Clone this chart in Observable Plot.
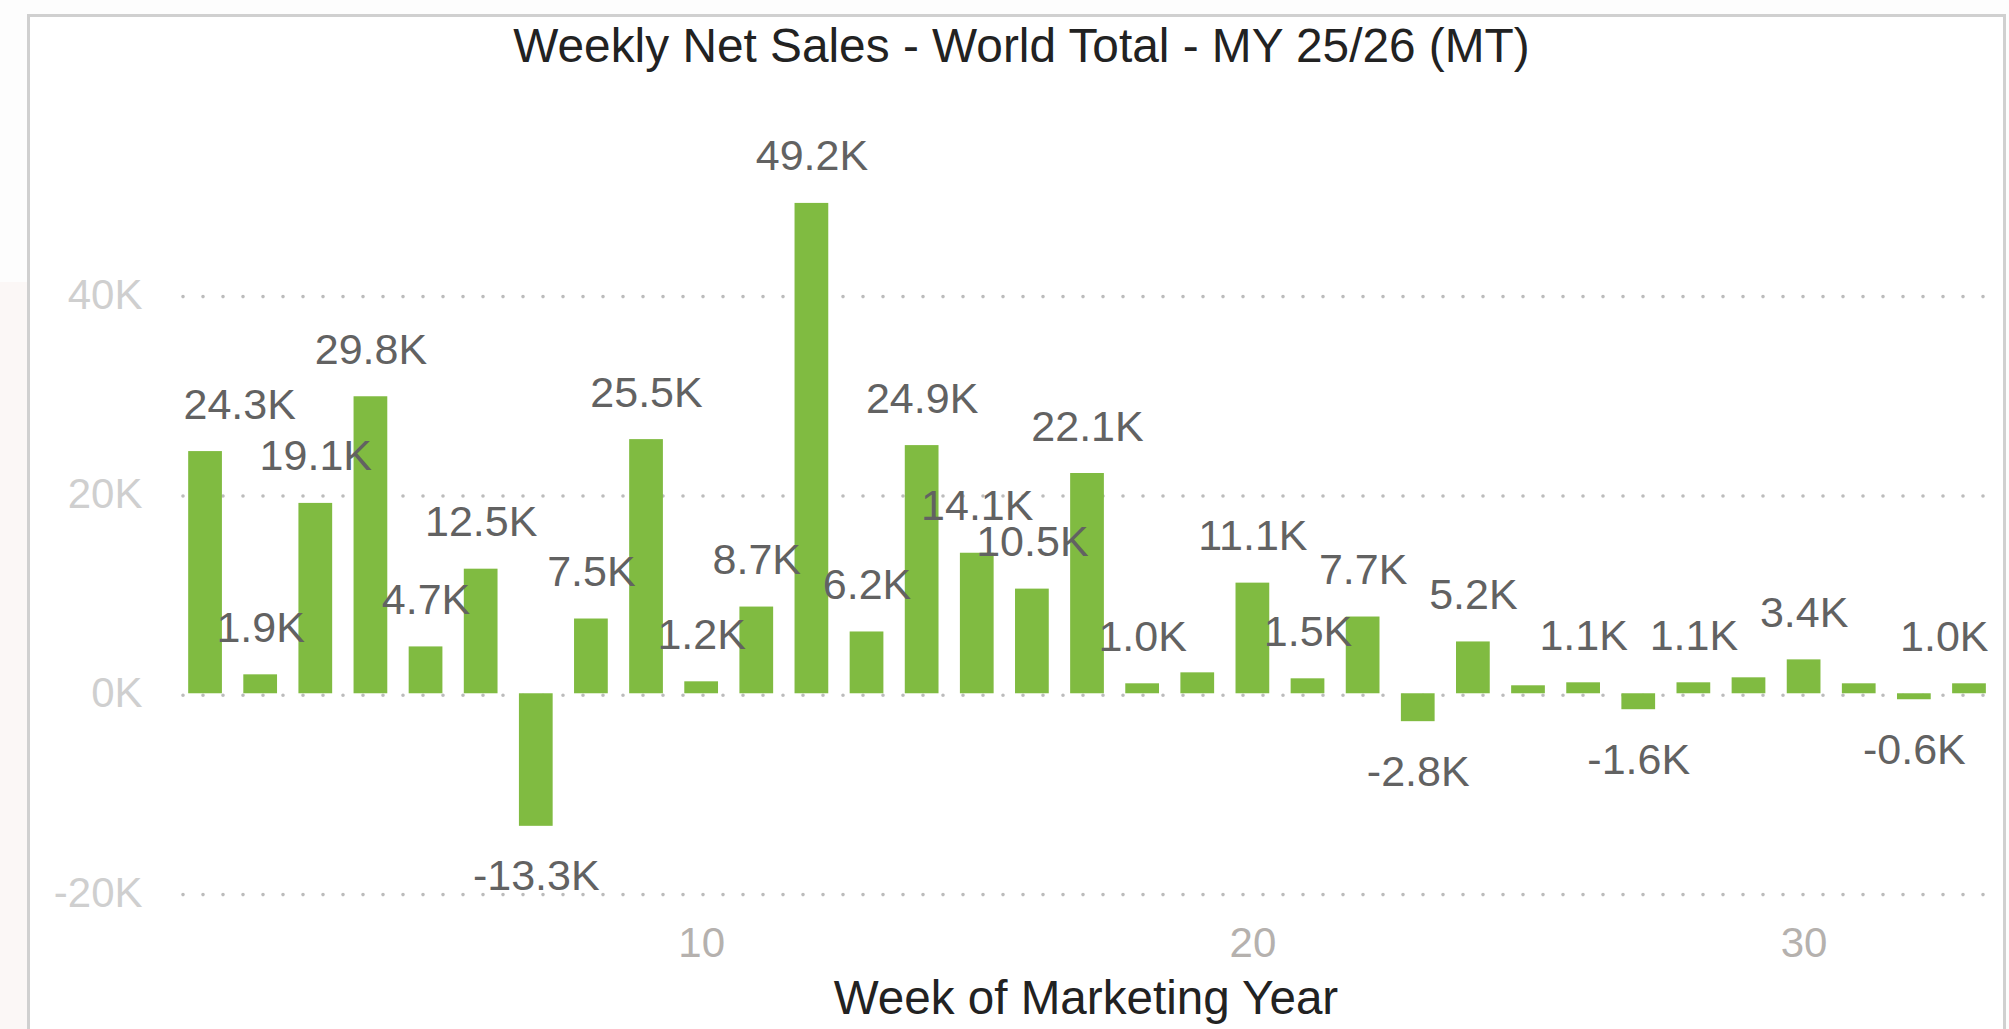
<!DOCTYPE html>
<html>
<head>
<meta charset="utf-8">
<script src="https://cdn.jsdelivr.net/npm/d3@7"></script>
<script src="https://cdn.jsdelivr.net/npm/@observablehq/plot@0.6"></script>
<style>
  html, body { margin: 0; padding: 0; background: #fdfdfd; width: 2009px; height: 1029px; overflow: hidden; position: relative; font-family: "Liberation Sans", Arial, sans-serif; }
  #strip { position: absolute; left: 0; top: 282px; width: 27px; height: 800px; background: #fbf7f6; }
  #box { position: absolute; left: 27px; top: 14px; width: 1973px; height: 1100px; border: 3px solid #d0d0d0; background: #ffffff; }
  #title { position: absolute; left: 30px; width: 1983px; top: 22px; text-align: center; font-size: 47.8px; line-height: 47px; color: #222222; white-space: nowrap; }
  #chart { position: absolute; left: 0; top: 0; }
</style>
</head>
<body>
<div id="strip"></div>
<div id="box"></div>
<div id="title">Weekly Net Sales - World Total - MY 25/26 (MT)</div>
<div id="chart"></div>
<script>
// ---- data ----
const weeks = [1,2,3,4,5,6,7,8,9,10,11,12,13,14,15,16,17,18,19,20,21,22,23,24,25,26,27,28,29,30,31,32,33];
const netSales = [24300, 1900, 19100, 29800, 4700, 12500, -13300, 7500, 25500, 1200, 8700, 49200, 6200, 24900, 14100, 10500, 22100, 1000, 2100, 11100, 1500, 7700, -2800, 5200, 800, 1100, -1600, 1100, 1600, 3400, 1000, -600, 1000];
const valueLabels = ["24.3K","1.9K","19.1K","29.8K","4.7K","12.5K","-13.3K","7.5K","25.5K","1.2K","8.7K","49.2K","6.2K","24.9K","14.1K","10.5K","22.1K","1.0K","","11.1K","1.5K","7.7K","-2.8K","5.2K","","1.1K","-1.6K","1.1K","","3.4K","","-0.6K","1.0K"];
const yTicks = [-20000, 0, 20000, 40000];
const xTicks = [10, 20, 30];
const titleText = "Weekly Net Sales - World Total - MY 25/26 (MT)";
const xLabel = "Week of Marketing Year";

const data = weeks.map((w, i) => ({week: w, value: netSales[i], label: valueLabels[i]}));
const labeled = data.filter(d => d.label);
const firstL = labeled[0];
const lastL = labeled[labeled.length - 1];
const inner = labeled.slice(1, -1);
const posL = inner.filter(d => d.value >= 0);
const negL = inner.filter(d => d.value < 0);

const sansFont = '"Liberation Sans", Arial, sans-serif';
const narrowFont = '"Liberation Sans Narrow", "Arial Narrow", "Liberation Sans", sans-serif';
const labelStyle = {fontFamily: narrowFont, fontSize: 43, fill: "#626262"};
const halfBar = 0.306;

const posOpts = (anchor) => ({y: "value", text: "label", lineAnchor: "bottom", dy: -33, ...labelStyle, ...anchor});
const negOpts = (anchor) => ({y: "value", text: "label", lineAnchor: "top", dy: 33.5, ...labelStyle, ...anchor});

const chart = Plot.plot({
  width: 2009,
  height: 1029,
  marginLeft: 183,
  marginRight: 21,
  marginTop: 294.6,
  marginBottom: 136.4,
  style: {background: "transparent", overflow: "visible", fontFamily: sansFont},
  x: {type: "linear", domain: [0.6, 33.345]},
  y: {domain: [-20000, 40000]},
  marks: [
    Plot.ruleY(yTicks, {stroke: "#bcbcbc", strokeWidth: 3.6, strokeDasharray: "0,20", strokeLinecap: "round", dy: 1.5}),
    Plot.rectY(data, {x1: d => d.week - halfBar, x2: d => d.week + halfBar, y1: 0, y2: "value", fill: "#80bb41"}),
    Plot.axisY(yTicks, {tickSize: 0, tickPadding: 41, tickFormat: d => d / 1000 + "K", fontSize: 42, fontFamily: sansFont, fill: "#cfcfcf", label: null}),
    Plot.axisX(xTicks, {tickSize: 0, tickPadding: 34, tickFormat: d => String(d), fontSize: 42, fontFamily: sansFont, fill: "#b5b1ae", label: null}),
    Plot.text(posL, posOpts({x: "week"})),
    Plot.text(negL, negOpts({x: "week"})),
    Plot.text([firstL], (firstL.value >= 0 ? posOpts : negOpts)({frameAnchor: "left", textAnchor: "start"})),
    Plot.text([lastL], (lastL.value >= 0 ? posOpts : negOpts)({frameAnchor: "right", textAnchor: "end"})),
    Plot.text([xLabel], {frameAnchor: "bottom", text: d => d, lineAnchor: "bottom", dy: 120.5, fontSize: 47.6, fontFamily: sansFont, fill: "#222222"})
  ]
});
document.getElementById("chart").appendChild(chart);
</script>
</body>
</html>
